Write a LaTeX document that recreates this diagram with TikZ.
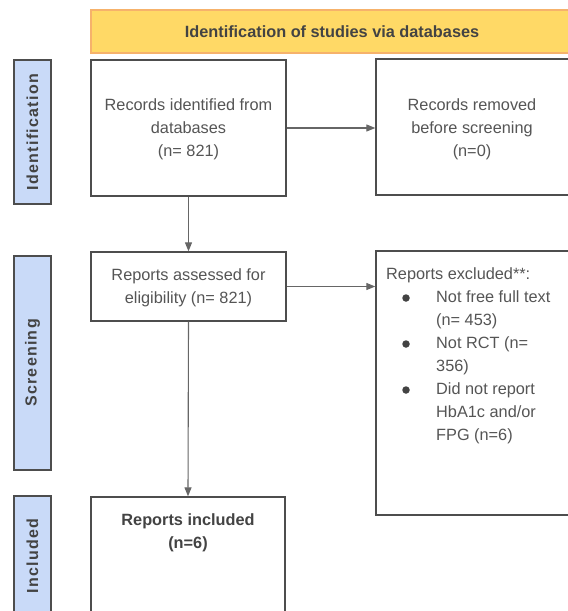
\documentclass[tikz,border=0pt]{standalone}
\usepackage{fontspec}
\setmainfont{Liberation Sans}
\usetikzlibrary{arrows.meta,calc}
\definecolor{txt}{HTML}{555555}
\definecolor{dark}{HTML}{434343}
\definecolor{boxc}{HTML}{4D4D4D}
\definecolor{arrc}{HTML}{666666}
\definecolor{yfill}{HTML}{FFD966}
\definecolor{ydraw}{HTML}{F6B26B}
\definecolor{bfill}{HTML}{C9DAF8}
\newcommand{\bodyfont}{\fontsize{16.3}{23.1}\selectfont}
\newcommand{\cnt}[1]{\hspace*{50pt}#1}
\begin{document}
\begin{tikzpicture}[x=1pt,y=-1pt,
  pbox/.style={draw=boxc, line width=1.3pt, fill=white, inner sep=0pt},
  side/.style={draw=boxc, line width=1.5pt, fill=bfill, inner sep=0pt, rotate=90,
     minimum height=37pt, text=dark,
     font=\fontsize{16}{19}\selectfont\bfseries\addfontfeatures{LetterSpace=8}},
  btext/.style={text=txt, font=\bodyfont, align=center, inner sep=0pt},
  bulletdot/.style={circle, fill=dark, inner sep=0pt, minimum size=7.5pt},
  arr/.style={draw=arrc, line width=1.1pt, -{Triangle[length=9pt,width=7pt]}},
]
\useasboundingbox (0,0) rectangle (568,611);
\clip (0,0) rectangle (568,611);
% header
\node[draw=ydraw, line width=1.3pt, fill=yfill, minimum width=484pt, minimum height=43pt, inner sep=0pt] (hdr) at (333,31.5) {};
\node[text=dark, font=\fontsize{16.3}{19}\selectfont\bfseries, inner sep=0pt] (hdrt) at (332,32) {Identification of studies via databases};
% side labels
\node[side, minimum width=144pt] (sid) at (32.5,132) {Identification};
\node[side, minimum width=214pt] (sscr) at (32.5,363) {Screening};
\node[side, minimum width=120pt] (sinc) at (32.5,556) {Included};
% boxes
\node[pbox, minimum width=195pt, minimum height=136pt] (b1) at (188.5,128) {};
\node[pbox, minimum width=194pt, minimum height=136pt] (b2) at (473,127) {};
\node[pbox, minimum width=195pt, minimum height=69pt] (b3) at (188.5,286.5) {};
\node[pbox, minimum width=194pt, minimum height=264pt] (b4) at (473,383) {};
\node[pbox, minimum width=194pt, minimum height=143pt] (b5) at (188,568.5) {};
% texts
\node[btext] (b1t) at (188.5,129) {Records identified from\\databases\\(n= 821)};
\node[btext] (b2t) at (472,129) {Records removed\\before screening\\(n=0)};
\node[btext] (b3t) at (188.5,288) {Reports assessed for\\eligibility (n= 821)};
\node[btext, text=dark, font=\bodyfont\bfseries] (b5t) at (188,533) {Reports included\\(n=6)};
\node[btext, align=left, anchor=north west] (b4t) at (386,267) {Reports excluded**:\\
\cnt{Not free full text}\\
\cnt{(n= 453)}\\
\cnt{Not RCT (n=}\\
\cnt{356)}\\
\cnt{Did not report}\\
\cnt{HbA1c and/or}\\
\cnt{FPG (n=6)}};
\node[bulletdot] (bu1) at (406,298) {};
\node[bulletdot] (bu2) at (406,344) {};
\node[bulletdot] (bu3) at (406,390) {};
% connectors
\draw[arr] (b1.south) -- (b3.north);
\draw[arr] (b1.east) -- (b1.east -| b2.west);
\draw[arr] (b3.east) -- (b3.east -| b4.west);
\draw[arr] (b3.south) -- (b5.north);
\end{tikzpicture}
\end{document}
